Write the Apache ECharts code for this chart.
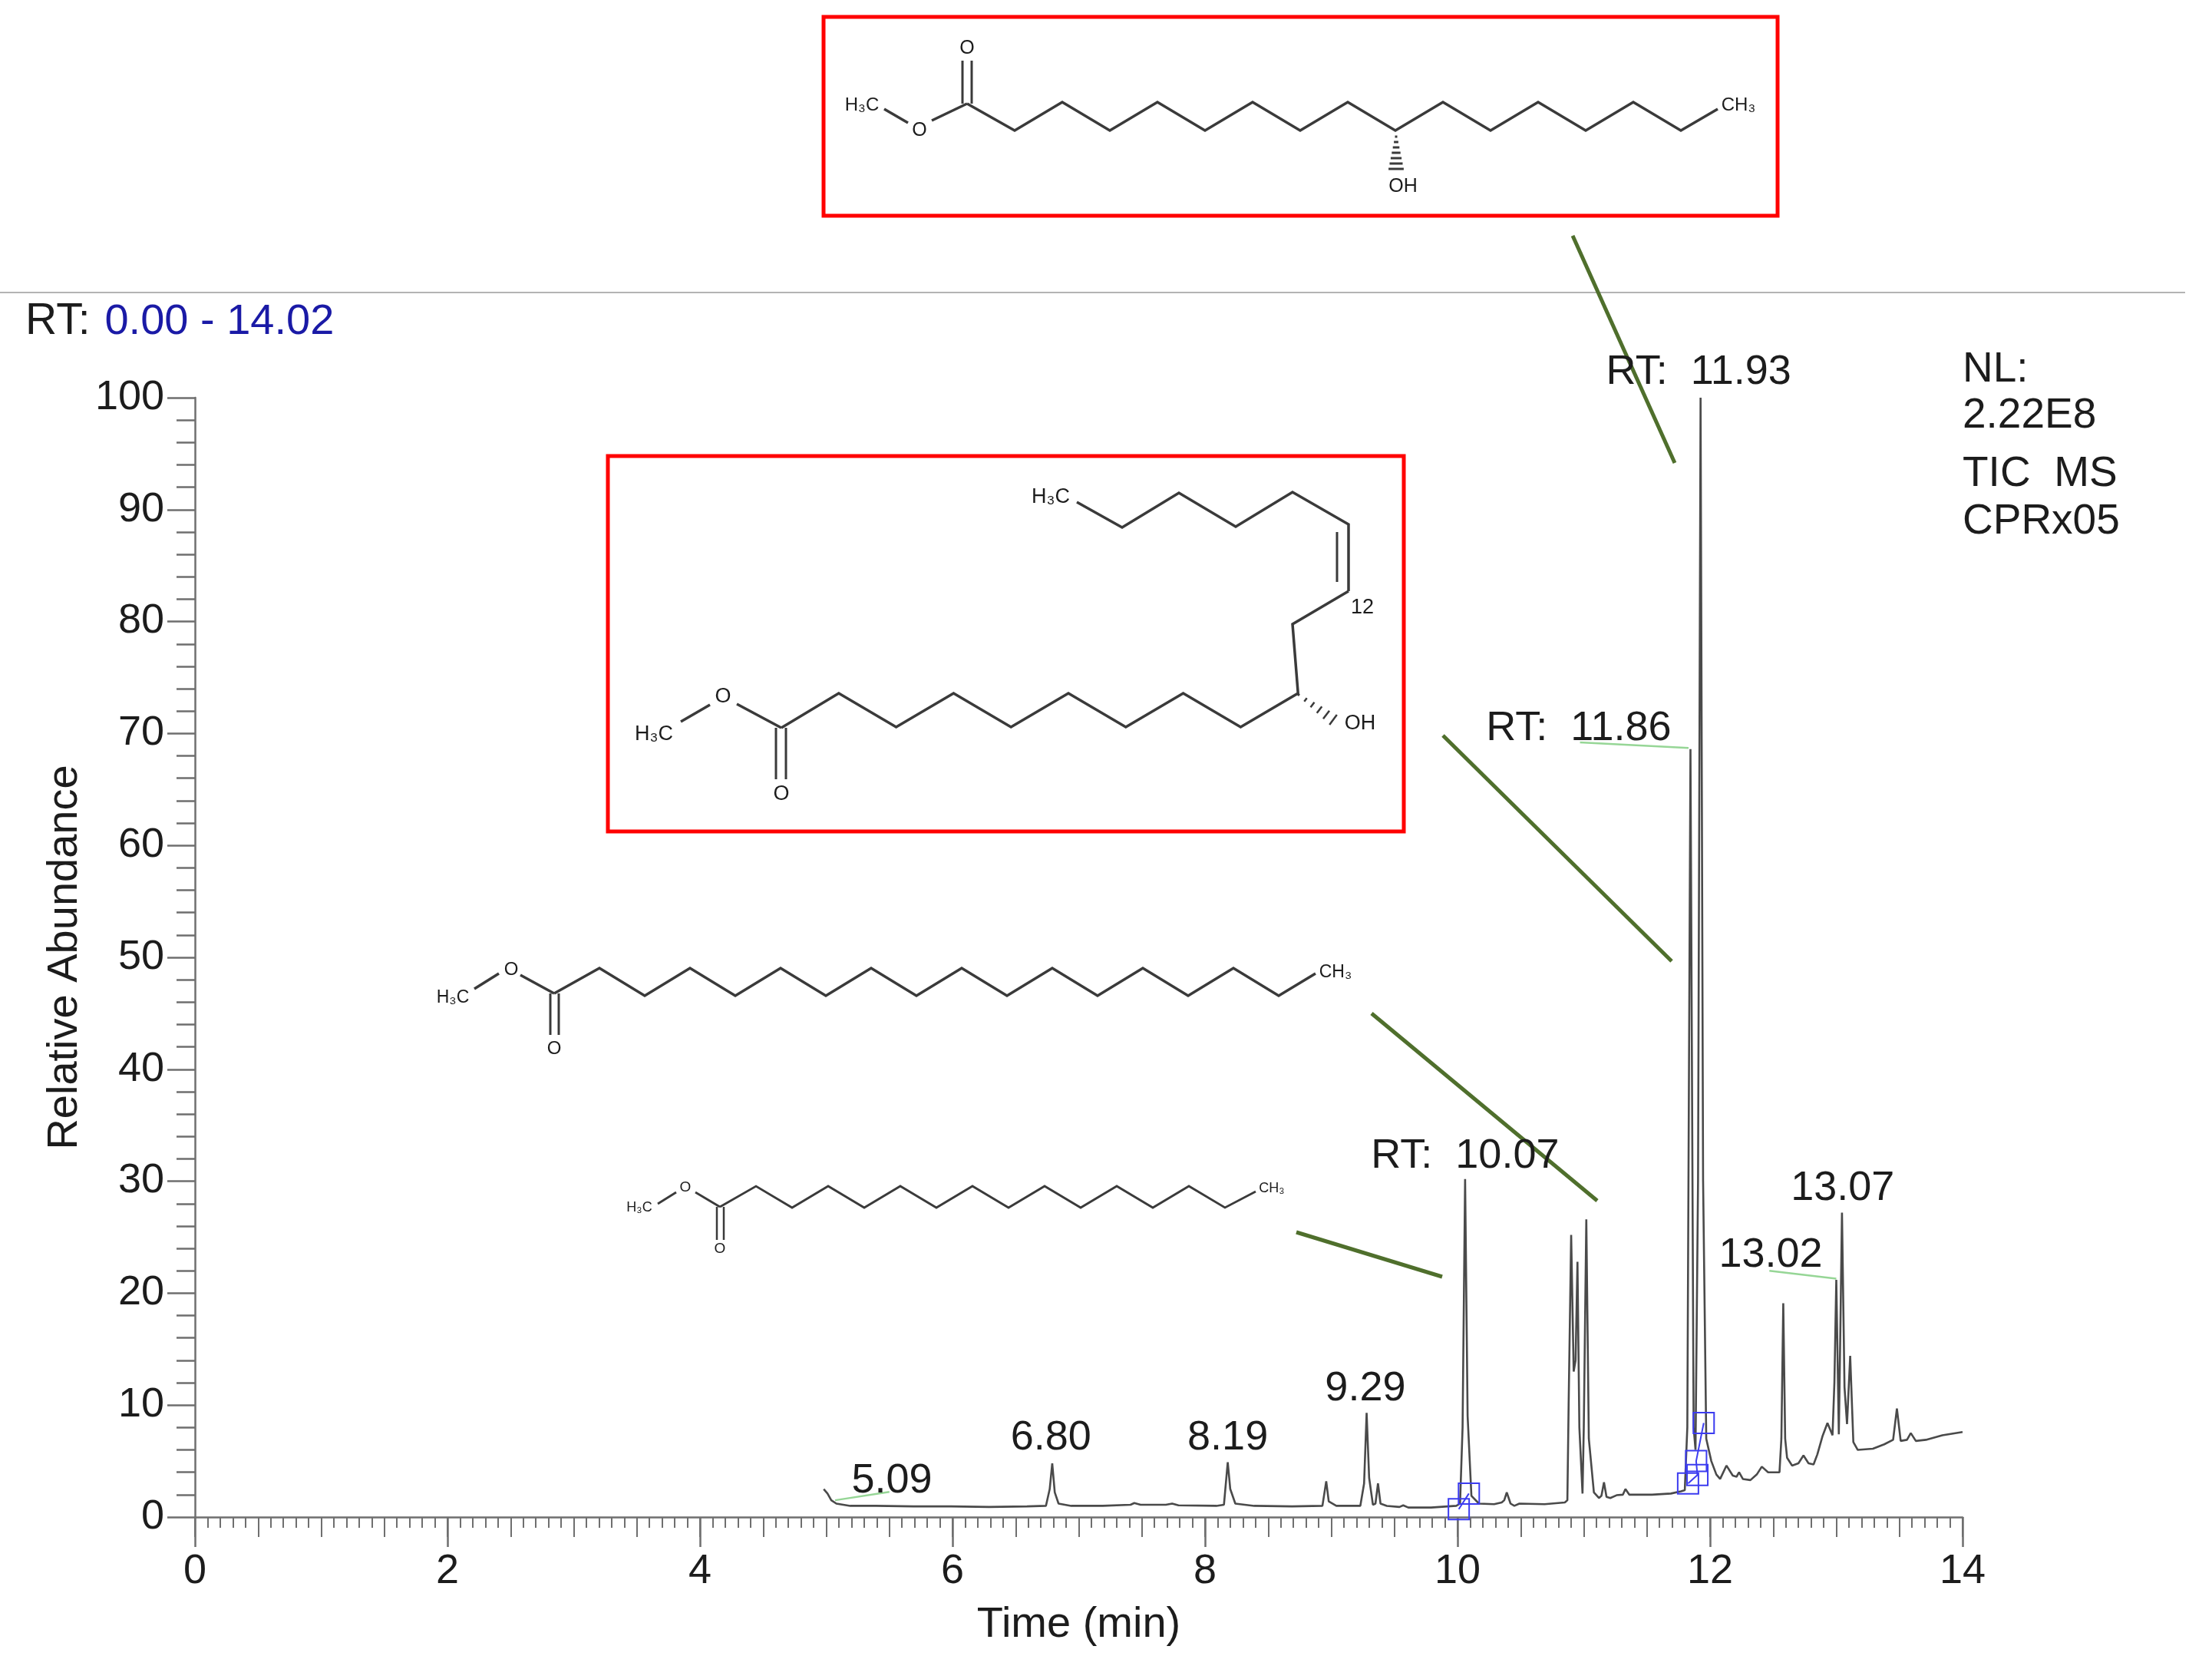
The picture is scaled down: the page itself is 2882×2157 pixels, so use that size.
<!DOCTYPE html>
<html>
<head>
<meta charset="utf-8">
<title>TIC MS CPRx05</title>
<style>
  html, body { margin: 0; padding: 0; background: #fff; }
  #chart-root { width: 2882px; height: 2157px; }
</style>
<script src="https://cdn.jsdelivr.net/npm/echarts@6/dist/echarts.min.js"></script>
</head>
<body>
<div id="chart-root"></div>
<script>
// chromatogram trace
const rtMin = [4.98, 5.01, 5.04, 5.08, 5.19, 5.39, 5.69, 5.99, 6.29, 6.59, 6.74, 6.77, 6.79, 6.81, 6.84, 6.94, 7.19, 7.41, 7.44, 7.49, 7.69, 7.74, 7.79, 8.09, 8.15, 8.18, 8.2, 8.24, 8.39, 8.69, 8.93, 8.96, 8.98, 9.04, 9.23, 9.26, 9.28, 9.3, 9.33, 9.35, 9.37, 9.39, 9.44, 9.54, 9.57, 9.61, 9.79, 9.99, 10.02, 10.04, 10.06, 10.08, 10.11, 10.17, 10.29, 10.35, 10.37, 10.39, 10.42, 10.45, 10.49, 10.69, 10.85, 10.87, 10.88, 10.9, 10.92, 10.935, 10.95, 10.965, 10.99, 11.0, 11.02, 11.04, 11.08, 11.12, 11.14, 11.16, 11.18, 11.21, 11.26, 11.31, 11.33, 11.36, 11.54, 11.69, 11.77, 11.8, 11.82, 11.845, 11.87, 11.885, 11.905, 11.925, 11.945, 11.97, 12.01, 12.05, 12.08, 12.13, 12.18, 12.21, 12.23, 12.26, 12.32, 12.37, 12.41, 12.46, 12.55, 12.565, 12.58, 12.595, 12.61, 12.65, 12.7, 12.74, 12.78, 12.82, 12.85, 12.89, 12.93, 12.97, 12.985, 13.0, 13.02, 13.03, 13.045, 13.065, 13.085, 13.11, 13.135, 13.17, 13.29, 13.38, 13.45, 13.48, 13.51, 13.56, 13.59, 13.63, 13.71, 13.84, 14.0];
const abundance = [2.5, 2.1, 1.5, 1.2, 1.0, 1.0, 0.95, 0.95, 0.9, 0.95, 1.0, 2.5, 4.8, 2.2, 1.2, 1.0, 1.0, 1.1, 1.25, 1.1, 1.1, 1.2, 1.05, 1.0, 1.1, 4.9, 2.5, 1.2, 1.0, 0.95, 1.0, 3.2, 1.4, 1.0, 1.0, 3.0, 9.3, 3.5, 1.1, 1.2, 3.0, 1.2, 1.0, 0.9, 1.05, 0.85, 0.85, 1.0, 1.2, 8.0, 30.2, 9.0, 1.9, 1.2, 1.15, 1.3, 1.5, 2.2, 1.2, 1.0, 1.2, 1.15, 1.3, 1.5, 10.0, 25.2, 13.0, 14.0, 22.8, 8.0, 2.1, 8.0, 26.6, 7.0, 2.2, 1.7, 1.9, 3.1, 1.8, 1.7, 1.95, 2.0, 2.5, 2.0, 2.0, 2.1, 2.3, 2.4, 8.0, 68.6, 8.0, 6.0, 30.0, 100, 30.0, 7.0, 5.0, 3.8, 3.4, 4.6, 3.7, 3.6, 4.0, 3.4, 3.3, 3.8, 4.5, 4.0, 4.0, 7.0, 19.1, 7.0, 5.3, 4.6, 4.8, 5.5, 4.8, 4.7, 5.6, 7.2, 8.4, 7.3, 12.0, 21.2, 7.4, 15.0, 27.2, 11.6, 8.3, 14.4, 6.7, 6.0, 6.1, 6.5, 6.9, 9.7, 6.8, 6.9, 7.5, 6.8, 6.9, 7.3, 7.6];

// peak labels, anchored on the axes
const peakLabels = ["5.09", "6.80", "8.19", "9.29", "RT:  10.07", "RT:  11.86", "RT:  11.93", "13.02", "13.07"];
const labelRt = [5.52, 6.78, 8.18, 9.27, 10.06, 10.96, 11.91, 12.48, 13.05];
const labelAbundance = [3.25, 7.05, 7.05, 11.45, 32.25, 70.45, 102.25, 23.35, 29.35];

// thin green leaders from label to peak, null breaks them
const leaderRt = [5.07, 5.5, null, 10.97, 11.83, null, 12.47, 13.0];
const leaderAbundance = [1.5, 2.25, null, 69.2, 68.7, null, 22.0, 21.3];

// blue scan filter boxes
const boxRtA = [10.01, 10.09];
const boxAbundanceA = [0.7, 2.1];
const boxRtB = [11.826, 11.90, 11.89, 11.95];
const boxAbundanceB = [3.0, 3.75, 5.0, 8.4];

const yTicks = [0, 10, 20, 30, 40, 50, 60, 70, 80, 90, 100];

const INK = "#1c1c1c";
const BOND = "#3a3a3a";
const SANS = '"Liberation Sans", Arial, sans-serif';
const POINTER = "#4f6f2c";

function zipXY(xs, ys) {
  return xs.map((x, i) => [x, ys[i]]);
}

function polyline(points, width) {
  return { type: "polyline", shape: { points }, style: { stroke: BOND, fill: null, lineWidth: width || 3.5 } };
}

function seg(x1, y1, x2, y2, color, width) {
  return {
    type: "line",
    shape: { x1, y1, x2, y2 },
    style: { stroke: color || BOND, lineWidth: width || 3 }
  };
}

function txt(text, x, y, size, align) {
  return {
    type: "text",
    x,
    y,
    style: {
      text,
      font: size + "px " + SANS,
      fill: INK,
      align: align || "center",
      verticalAlign: "middle"
    }
  };
}

function redBox(x1, y1, x2, y2) {
  return {
    type: "rect",
    shape: { x: x1, y: y1, width: x2 - x1, height: y2 - y1 },
    style: { stroke: "#ff0000", fill: null, lineWidth: 5 }
  };
}

// fatty chain: starts at (x, y0), odd steps go to yOdd, even steps to yEven
function zigzag(x, y0, dx, yOdd, yEven, steps) {
  let pts = [[x, y0]];
  for (let i = 1; i <= steps; i++) {
    pts.push([x + i * dx, i % 2 ? yOdd : yEven]);
  }
  return pts;
}

let graphics = [
  // rule under the structure at the top
  seg(0, 381, 2847, 381, "#b4b4b4", 2),

  redBox(1073, 22, 2316, 281),
  redBox(792, 594, 1829, 1083),

  // pointers from the structures to their peaks
  seg(2049, 307, 2182, 603, POINTER, 5),
  seg(1880, 958, 2178, 1252, POINTER, 5),
  seg(1787, 1320, 2081, 1564, POINTER, 5),
  seg(1689, 1605, 1879, 1663, POINTER, 5),

  txt("NL:", 2557, 482, 55, "left"),
  txt("2.22E8", 2557, 542, 55, "left"),
  txt("TIC  MS", 2557, 618, 55, "left"),
  txt("CPRx05", 2557, 680, 55, "left")
];

// top structure, hydroxy stearate
let chain1 = zigzag(1260, 135, 62, 170, 133, 15);
chain1.push([2238, 142]);
graphics.push(
  polyline(chain1),
  polyline([[1260, 135], [1214, 157]]),
  polyline([[1152, 142], [1183, 160]]),
  seg(1254, 135, 1254, 79),
  seg(1266, 135, 1266, 79),
  txt("O", 1260, 63, 25),
  txt("O", 1198, 170, 25),
  txt("H₃C", 1123, 137, 24),
  txt("CH₃", 2265, 137, 24),
  txt("OH", 1828, 243, 25)
);
for (let i = 0; i < 7; i++) {
  let half = 1.5 + i * 1.4;
  graphics.push(seg(1819 - half, 178 + i * 7, 1819 + half, 178 + i * 7, BOND, 3));
}

// boxed structure, ricinoleate
let chain2 = zigzag(1018, 948, 74.8, 903, 947, 9);
chain2.push([1684, 813], [1757, 770]);
graphics.push(
  polyline(chain2),
  polyline([[1757, 770], [1757, 683], [1684, 641], [1610, 686], [1536, 642], [1462, 687], [1403, 654]]),
  seg(1742, 758, 1742, 693),
  polyline([[1018, 948], [960, 917]]),
  polyline([[925, 918], [887, 940]]),
  seg(1011, 948, 1011, 1015),
  seg(1024, 948, 1024, 1015),
  txt("O", 1018, 1035, 27),
  txt("O", 942, 908, 27),
  txt("H₃C", 852, 957, 27),
  txt("H₃C", 1369, 648, 27),
  txt("12", 1775, 792, 27),
  txt("OH", 1772, 943, 27)
);
for (let i = 0; i < 6; i++) {
  let cx = 1692 + i * 9, cy = 905 + i * 6.5, half = 1.5 + i * 1.3;
  graphics.push(seg(cx + half * 0.6, cy - half * 0.8, cx - half * 0.6, cy + half * 0.8, BOND, 2.5));
}

// stearate
let chain3 = zigzag(722, 1294, 59, 1261, 1297, 16);
chain3.push([1714, 1268]);
graphics.push(
  polyline(chain3),
  polyline([[722, 1294], [678, 1270]]),
  polyline([[650, 1268], [618, 1288]]),
  seg(717, 1294, 717, 1348),
  seg(728, 1294, 728, 1348),
  txt("O", 722, 1366, 24),
  txt("O", 666, 1263, 24),
  txt("H₃C", 590, 1300, 23),
  txt("CH₃", 1740, 1267, 23)
);

// palmitate
let chain4 = zigzag(938, 1572, 47, 1545, 1573, 14);
chain4.push([1636, 1552]);
graphics.push(
  polyline(chain4, 2.8),
  polyline([[938, 1572], [906, 1553]], 2.8),
  polyline([[881, 1553], [857, 1568]], 2.8),
  seg(934, 1572, 934, 1615, BOND, 2.5),
  seg(943, 1572, 943, 1615, BOND, 2.5),
  txt("O", 938, 1627, 19),
  txt("O", 893, 1547, 19),
  txt("H₃C", 833, 1573, 18),
  txt("CH₃", 1657, 1548, 18)
);

const chart = echarts.init(document.getElementById("chart-root"));

const axisGrey = { color: "#6f6f6f", width: 2.5 };
const tickFont = { color: INK, fontSize: 54, fontFamily: SANS };

chart.setOption({
  animation: false,
  backgroundColor: "#fff",
  textStyle: { fontFamily: SANS },
  title: {
    text: "{k|RT:} {v|0.00 - 14.02}",
    left: 28,
    top: 386,
    textStyle: {
      fontWeight: "normal",
      rich: {
        k: { fontSize: 57, fontWeight: "normal", color: INK, fontFamily: SANS },
        v: { fontSize: 56, fontWeight: "normal", color: "#1a1aa6", fontFamily: SANS, padding: [0, 0, 0, 14] }
      }
    }
  },
  grid: { left: 254, top: 518, width: 2303, height: 1458 },
  xAxis: [
    {
      type: "value",
      position: "bottom",
      min: 0,
      max: 14,
      interval: 2,
      name: "Time (min)",
      nameLocation: "middle",
      nameGap: 113,
      nameTextStyle: { color: INK, fontSize: 56, fontFamily: SANS },
      axisLine: { show: true, lineStyle: axisGrey },
      axisTick: { show: true, length: 39, lineStyle: axisGrey },
      axisLabel: { ...tickFont, margin: 44, showMinLabel: true, showMaxLabel: true },
      splitLine: { show: false }
    },
    {
      // half minute and tenth minute ticks, no labels
      type: "value",
      position: "bottom",
      min: 0,
      max: 14,
      interval: 0.5,
      axisLine: { show: false },
      axisTick: { show: true, length: 26, lineStyle: { color: "#6f6f6f", width: 2 } },
      minorTick: { show: true, splitNumber: 5, length: 14, lineStyle: { color: "#6f6f6f", width: 2 } },
      axisLabel: { show: false },
      splitLine: { show: false }
    }
  ],
  yAxis: {
    type: "value",
    min: yTicks[0],
    max: yTicks[yTicks.length - 1],
    interval: 10,
    name: "Relative Abundance",
    nameLocation: "middle",
    nameGap: 141,
    nameTextStyle: { color: INK, fontSize: 56, fontFamily: SANS },
    axisLine: { show: true, lineStyle: axisGrey },
    axisTick: { show: true, length: 36, lineStyle: axisGrey },
    minorTick: { show: true, splitNumber: 5, length: 24, lineStyle: axisGrey },
    axisLabel: { ...tickFont, margin: 40, padding: [4, 0, 0, 0] },
    splitLine: { show: false }
  },
  series: [
    {
      name: "TIC",
      type: "line",
      data: zipXY(rtMin, abundance),
      showSymbol: false,
      lineStyle: { color: "#4a4a4a", width: 2.6 },
      silent: true,
      clip: false,
      z: 3
    },
    {
      name: "leaders",
      type: "line",
      data: zipXY(leaderRt, leaderAbundance).map(p => (p[0] === null ? [null, null] : p)),
      showSymbol: false,
      connectNulls: false,
      lineStyle: { color: "#96d696", width: 2.5 },
      silent: true,
      z: 2
    },
    {
      name: "scan boxes 10",
      type: "line",
      data: zipXY(boxRtA, boxAbundanceA),
      symbol: "rect",
      symbolSize: 27,
      showSymbol: true,
      itemStyle: { color: "transparent", borderColor: "#3c3cf0", borderWidth: 2 },
      lineStyle: { color: "#3c3cf0", width: 2 },
      clip: false,
      silent: true,
      z: 4
    },
    {
      name: "scan boxes 12",
      type: "line",
      data: zipXY(boxRtB, boxAbundanceB),
      symbol: "rect",
      symbolSize: 27,
      showSymbol: true,
      itemStyle: { color: "transparent", borderColor: "#3c3cf0", borderWidth: 2 },
      lineStyle: { color: "#3c3cf0", width: 2 },
      clip: false,
      silent: true,
      z: 4
    },
    {
      name: "peak labels",
      type: "scatter",
      data: zipXY(labelRt, labelAbundance),
      symbolSize: 0,
      clip: false,
      silent: true,
      itemStyle: { opacity: 1 },
      label: {
        show: true,
        position: "inside",
        formatter: p => peakLabels[p.dataIndex],
        color: INK,
        opacity: 1,
        fontSize: 54,
        fontFamily: SANS
      },
      z: 5
    }
  ],
  graphic: { elements: graphics }
});
</script>
</body>
</html>
